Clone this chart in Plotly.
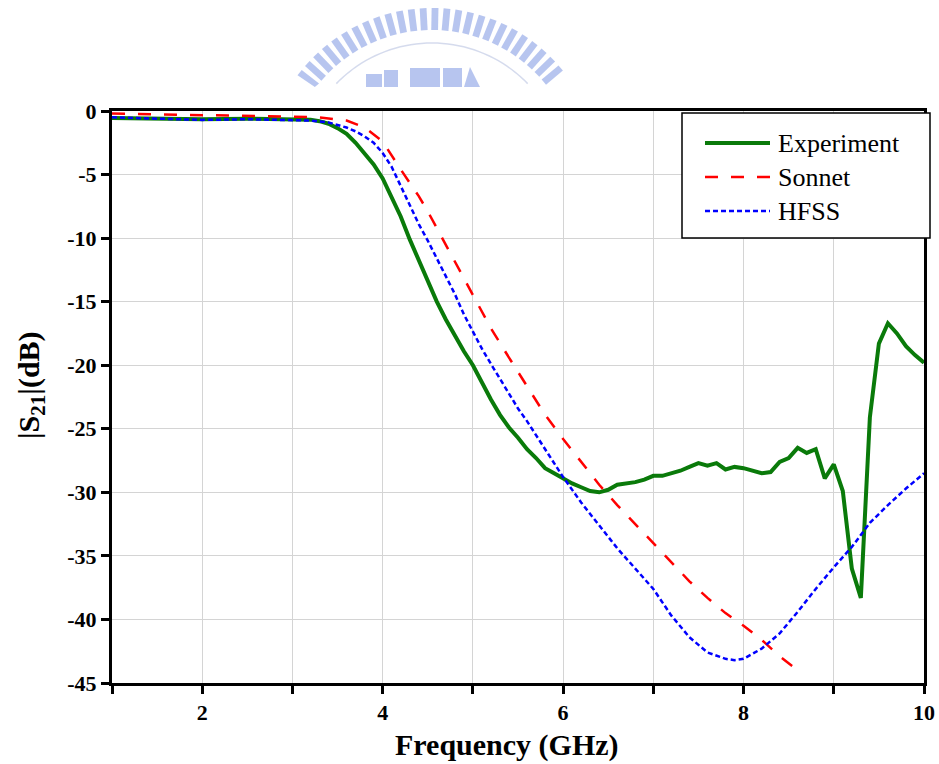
import math
import plotly.graph_objects as go

# ---- measured / simulated |S21| data (GHz, dB) ----
exp_f = [1.0, 1.5, 2.0, 2.5, 3.0, 3.2, 3.3, 3.4, 3.5, 3.6, 3.7, 3.8, 3.9, 4.0,
         4.1, 4.2, 4.3, 4.4, 4.5, 4.6, 4.7, 4.8, 4.9, 5.0, 5.1, 5.2, 5.3, 5.4,
         5.5, 5.6, 5.7, 5.8, 5.9, 6.0, 6.1, 6.2, 6.3, 6.4, 6.5, 6.6, 6.7, 6.8,
         6.9, 7.0, 7.1, 7.2, 7.3, 7.4, 7.5, 7.6, 7.7, 7.8, 7.9, 8.0, 8.1, 8.2,
         8.3, 8.4, 8.5, 8.6, 8.7, 8.8, 8.9, 9.0, 9.1, 9.2, 9.3, 9.4, 9.5, 9.6,
         9.7, 9.8, 9.9, 10.0]
exp_s21 = [-0.55, -0.6, -0.65, -0.6, -0.62, -0.68, -0.8, -1.0, -1.35, -1.8,
           -2.5, -3.3, -4.2, -5.3, -6.8, -8.3, -10.1, -11.7, -13.4, -15.0,
           -16.4, -17.7, -18.9, -20.0, -21.4, -22.7, -23.9, -24.9, -25.7,
           -26.6, -27.3, -28.1, -28.5, -28.9, -29.3, -29.6, -29.9, -30.0,
           -29.8, -29.4, -29.3, -29.2, -29.0, -28.7, -28.7, -28.5, -28.3,
           -28.0, -27.7, -27.9, -27.7, -28.2, -28.0, -28.1, -28.3, -28.5,
           -28.4, -27.6, -27.3, -26.5, -26.9, -26.6, -28.9, -27.8, -29.9,
           -36.0, -38.3, -24.1, -18.3, -16.7, -17.5, -18.5, -19.2, -19.8]

sonnet_f = [1.0, 1.5, 2.0, 2.5, 3.0, 3.3, 3.6, 3.8, 4.0, 4.2, 4.4, 4.5, 4.6,
            4.8, 5.0, 5.2, 5.4, 5.6, 5.8, 6.0, 6.2, 6.4, 6.6, 6.8, 7.0, 7.2,
            7.4, 7.6, 7.8, 8.0, 8.2, 8.4, 8.6]
sonnet_s21 = [-0.2, -0.25, -0.3, -0.35, -0.45, -0.5, -0.75, -1.3, -2.4, -4.6,
              -6.7, -7.9, -9.2, -11.9, -14.5, -17.1, -19.4, -21.7, -23.9,
              -25.8, -27.6, -29.4, -31.0, -32.5, -34.0, -35.5, -37.0, -38.3,
              -39.5, -40.5, -41.6, -42.9, -44.0]

hfss_f = [1.0, 1.5, 2.0, 2.5, 3.0, 3.2, 3.4, 3.6, 3.7, 3.8, 3.9, 4.0, 4.1,
          4.2, 4.3, 4.4, 4.5, 4.6, 4.7, 4.8, 4.9, 5.0, 5.1, 5.2, 5.3, 5.4,
          5.5, 5.6, 5.7, 5.8, 5.9, 6.0, 6.2, 6.4, 6.6, 6.8, 7.0, 7.2, 7.4,
          7.6, 7.8, 7.9, 8.0, 8.2, 8.4, 8.6, 8.8, 9.0, 9.2, 9.4, 9.6, 9.8,
          10.0]
hfss_s21 = [-0.5, -0.6, -0.7, -0.65, -0.68, -0.75, -0.9, -1.3, -1.6, -2.0,
            -2.5, -3.3, -4.4, -5.9, -7.4, -8.9, -10.2, -11.6, -13.0, -14.4,
            -16.0, -17.4, -18.7, -19.9, -21.1, -22.3, -23.4, -24.4, -25.5,
            -26.6, -27.7, -28.8, -30.8, -32.6, -34.4, -36.0, -37.6, -39.7,
            -41.4, -42.6, -43.1, -43.2, -43.1, -42.3, -41.1, -39.4, -37.6,
            -35.9, -34.3, -32.4, -31.0, -29.7, -28.5]

y_ticks = [0, -5, -10, -15, -20, -25, -30, -35, -40, -45]
y_labels = ["0", "-5", "-10", "-15", "-20", "-25", "-30", "-35", "-40", "-45"]

series_names = ["Experiment", "Sonnet", "HFSS"]
series_colors = ["#0a7a0a", "#ff0000", "#0000ff"]
series_dash = ["solid", "13px,13px", "5px,3px"]
series_width = [4, 2.5, 2.5]

SERIF = "Liberation Serif, Times New Roman, serif"

W, H = 939, 764
L, R, T, B = 112, 15, 111, 81
PW, PH = W - L - R, H - T - B


def paper(px, py):
    """Convert page pixel position to paper coordinates."""
    return (px - L) / PW, (H - B - py) / PH


fig = go.Figure()
for f, s, name, col, dash, wid in zip(
        [exp_f, sonnet_f, hfss_f], [exp_s21, sonnet_s21, hfss_s21],
        series_names, series_colors, series_dash, series_width):
    fig.add_trace(go.Scatter(x=f, y=s, mode="lines", name=name,
                             line=dict(color=col, dash=dash, width=wid),
                             showlegend=False))

shapes = []
annotations = []

# ---- legend box ----
lx0, ly1 = paper(682, 113)
lx1, ly0 = paper(930, 238)
shapes.append(dict(type="rect", xref="paper", yref="paper",
                   x0=lx0, x1=lx1, y0=ly0, y1=ly1,
                   line=dict(color="black", width=1.5), fillcolor="white",
                   layer="above"))
for i, (name, col, dash, wid) in enumerate(zip(series_names, series_colors,
                                                series_dash, series_width)):
    row_y = 143 + 34 * i
    sx0, sy = paper(705, row_y)
    sx1, _ = paper(770, row_y)
    shapes.append(dict(type="line", xref="paper", yref="paper",
                       x0=sx0, x1=sx1, y0=sy, y1=sy, layer="above",
                       line=dict(color=col, dash=dash, width=wid)))
    tx, _ = paper(776, row_y)
    annotations.append(dict(text=name, xref="paper", yref="paper", x=tx,
                            y=sy, xanchor="left", yanchor="middle",
                            showarrow=False,
                            font=dict(family=SERIF, size=26, color="black")))

# ---- faint emblem above the plot ----
EMB = "rgba(135,158,228,0.6)"
cx, cy = 432, 176
for i in range(26):
    th = math.radians(-52 + i * 102 / 25)
    s, c = math.sin(th), math.cos(th)
    hw = 3.4
    pts = []
    for r, side in [(146, -1), (168, -1), (168, 1), (146, 1)]:
        px = cx + r * s + side * hw * c
        py = cy - r * c + side * hw * s
        py = min(py, 87)
        pts.append(paper(px, py))
    path = "M " + " L ".join(f"{a:.5f},{b:.5f}" for a, b in pts) + " Z"
    shapes.append(dict(type="path", xref="paper", yref="paper", path=path,
                       fillcolor=EMB, line=dict(width=0)))
arc = []
for k in range(41):
    th = math.radians(-46 + k * 92 / 40)
    arc.append(paper(cx + 133 * math.sin(th), cy - 133 * math.cos(th)))
shapes.append(dict(type="path", xref="paper", yref="paper",
                   path="M " + " L ".join(f"{a:.5f},{b:.5f}" for a, b in arc),
                   line=dict(color="rgba(150,165,210,0.4)", width=1.5)))
for (ax0, ay0, ax1, ay1) in [(366, 74, 382, 87), (384, 70, 398, 87),
                             (410, 68, 440, 87), (443, 68, 462, 87)]:
    p0 = paper(ax0, ay1)
    p1 = paper(ax1, ay0)
    shapes.append(dict(type="rect", xref="paper", yref="paper",
                       x0=p0[0], y0=p0[1], x1=p1[0], y1=p1[1],
                       fillcolor=EMB, line=dict(width=0)))
tri = [paper(464, 87), paper(470, 67), paper(480, 87)]
shapes.append(dict(type="path", xref="paper", yref="paper",
                   path="M " + " L ".join(f"{a:.5f},{b:.5f}" for a, b in tri) + " Z",
                   fillcolor=EMB, line=dict(width=0)))

# ---- axis titles ----
xt, yt = paper(507, 745)
annotations.append(dict(text="<b>Frequency (GHz)</b>", xref="paper",
                        yref="paper", x=xt, y=yt, xanchor="center",
                        yanchor="middle", showarrow=False,
                        font=dict(family=SERIF, size=30, color="black")))
xt, yt = paper(31, 385)
annotations.append(dict(text="<b>|S<sub>21</sub>|(dB)</b>", xref="paper",
                        yref="paper", x=xt, y=yt, xanchor="center",
                        yanchor="middle", textangle=-90, showarrow=False,
                        font=dict(family=SERIF, size=30, color="black")))

GRID = "#d4d4d4"
axis_common = dict(showline=True, linewidth=3, linecolor="black", mirror=True,
                   showgrid=True, gridcolor=GRID, gridwidth=1,
                   zeroline=False, ticks="outside", ticklen=8, tickwidth=3,
                   tickcolor="black",
                   tickfont=dict(family=SERIF, size=22, color="black",
                                 weight="bold"))

fig.update_layout(
    width=W, height=H,
    margin=dict(l=L, r=R, t=T, b=B, autoexpand=False),
    paper_bgcolor="white", plot_bgcolor="white",
    xaxis=dict(range=[1, 10], tick0=0, dtick=2,
               minor=dict(dtick=1, tick0=0, ticks="outside", ticklen=8,
                          tickwidth=3, tickcolor="black", showgrid=True,
                          gridcolor=GRID, gridwidth=1),
               **axis_common),
    yaxis=dict(range=[-45, 0], tickmode="array", tickvals=y_ticks,
               ticktext=y_labels, **axis_common),
    shapes=shapes, annotations=annotations, showlegend=False,
)

fig.write_html("out.html")
